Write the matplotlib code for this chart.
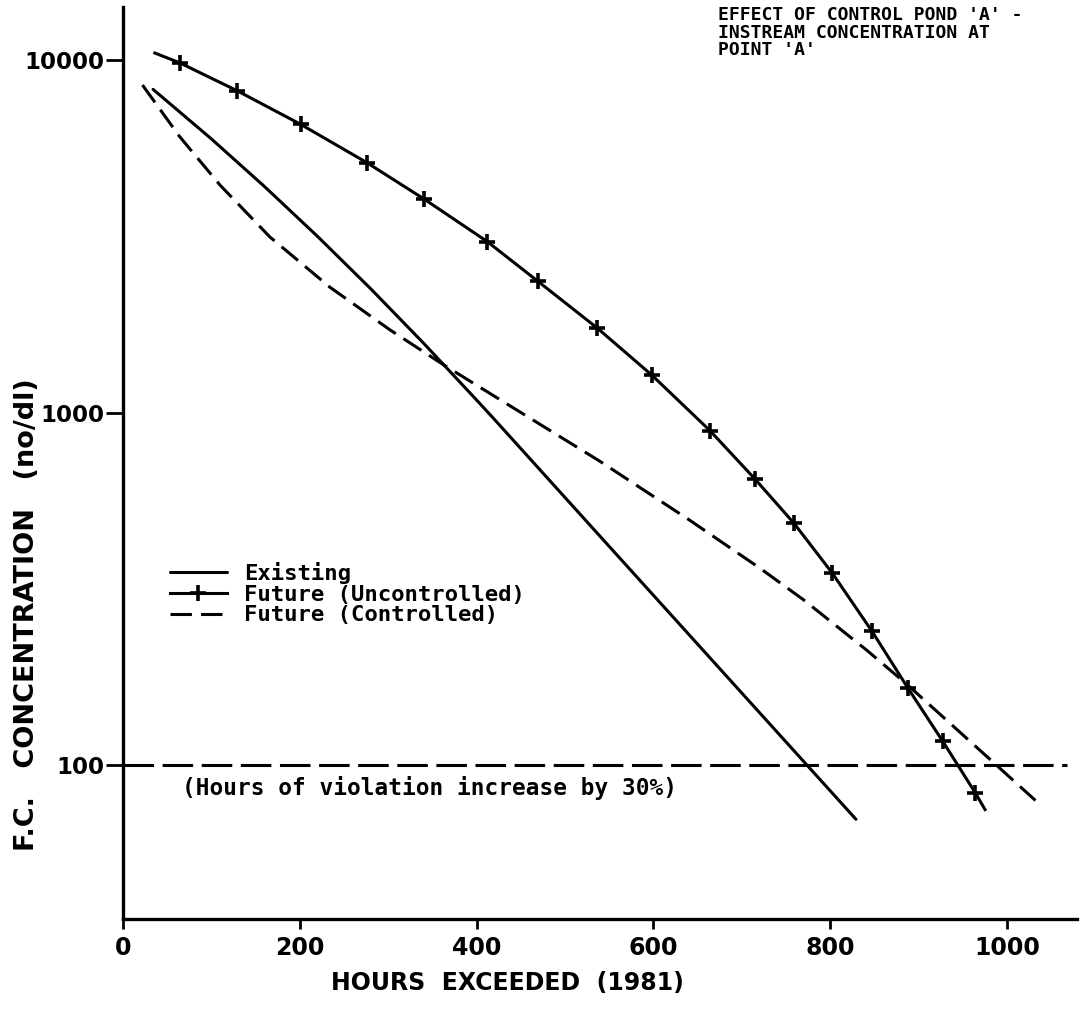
import matplotlib
matplotlib.use("Agg")
import matplotlib.pyplot as plt
from matplotlib.ticker import FixedLocator, NullLocator

# Hours exceeded vs. fecal coliform concentration (no/dl), 1981
existing_hours = [34, 100, 160, 220, 280, 340, 400, 419, 500, 600, 700, 829]
existing_conc = [8258, 5973, 4378, 3161, 2247, 1573, 1085, 963, 574, 303, 160, 70.2]

uncontrolled_hours = [36, 64, 129, 201, 276, 341, 412, 469, 536, 598, 664, 715, 759, 802,
                      847, 888, 927, 964, 975]
uncontrolled_conc = [10470, 9825, 8185, 6570, 5113, 4027, 3055, 2360, 1740, 1278, 888, 647,
                     485, 351, 240, 165, 117, 83.4, 74.8]

controlled_hours = [22, 64, 110, 166, 234, 302, 362, 434, 540, 641, 721, 770, 841, 886, 984,
                    1032]
controlled_conc = [8495, 6067, 4411, 3151, 2268, 1716, 1369, 1059, 726, 495, 361, 294, 212,
                   170, 102, 79.4]

standard_level = 100
x_ticks = [0, 200, 400, 600, 800, 1000]
y_ticks = [100, 1000, 10000]

mono = "DejaVu Sans Mono"
lw = 2.2

fig = plt.figure(figsize=(10.81, 10.13), dpi=100)
ax = fig.add_axes([123 / 1081, 1 - 919 / 1013, (1077 - 123) / 1081, (919 - 7) / 1013])

ax.set_yscale("log")
ax.set_xlim(0, 1079)
ax.set_ylim(36.6, 14140)

ax.plot(existing_hours, existing_conc, color="black", lw=lw, solid_capstyle="round",
        solid_joinstyle="round", label="Existing")
ax.plot(uncontrolled_hours, uncontrolled_conc, color="black", lw=lw,
        solid_joinstyle="round", marker="+", markersize=12, markeredgewidth=2.6,
        markevery=list(range(1, 18)), label="Future (Uncontrolled)")
ax.plot(controlled_hours, controlled_conc, color="black", lw=lw, dashes=(7, 3),
        label="Future (Controlled)")

# water quality standard
ax.plot([0, 1068], [standard_level, standard_level], color="black", lw=lw, dashes=(10, 2.8))
ax.text(67, 86, "(Hours of violation increase by 30%)", family=mono, fontsize=16.4,
        fontweight="bold", ha="left", va="center")

for s in ("top", "right"):
    ax.spines[s].set_visible(False)
for s in ("left", "bottom"):
    ax.spines[s].set_linewidth(2.4)

ax.xaxis.set_major_locator(FixedLocator(x_ticks))
ax.xaxis.set_minor_locator(NullLocator())
ax.yaxis.set_major_locator(FixedLocator(y_ticks))
ax.yaxis.set_minor_locator(NullLocator())
ax.set_xticklabels([str(v) for v in x_ticks])
ax.set_yticklabels([str(v) for v in y_ticks])
ax.tick_params(axis="x", direction="out", length=7, width=2, pad=5, labelsize=17)
ax.tick_params(axis="y", direction="out", length=12, width=2, pad=1.5, labelsize=16.5)
for lab in ax.get_xticklabels() + ax.get_yticklabels():
    lab.set_fontweight("bold")

fig.text(507 / 1081, 1 - 983 / 1013, "HOURS  EXCEEDED  (1981)", fontsize=17,
         fontweight="bold", ha="center", va="center")
fig.text(27 / 1081, 1 - 615 / 1013, "F.C.   CONCENTRATION   (no/dl)", fontsize=19.5,
         fontweight="bold", ha="center", va="center", rotation=90)

fig.text(718 / 1081, 1 - 6 / 1013,
         "EFFECT OF CONTROL POND 'A' -\nINSTREAM CONCENTRATION AT\nPOINT 'A'",
         family=mono, fontsize=13, fontweight="bold", ha="left", va="top", linespacing=0.98)

leg = ax.legend(loc="upper left", bbox_to_anchor=(170 / 1081, 1 - 562 / 1013),
                bbox_transform=fig.transFigure, frameon=False, borderpad=0,
                borderaxespad=0, handlelength=2.55, handletextpad=0.8,
                labelspacing=0.03, numpoints=1,
                prop={"family": mono, "size": 16, "weight": "bold"})
for h in leg.legend_handles:
    h.set_markersize(11)

fig.savefig("out.png", dpi=100)
